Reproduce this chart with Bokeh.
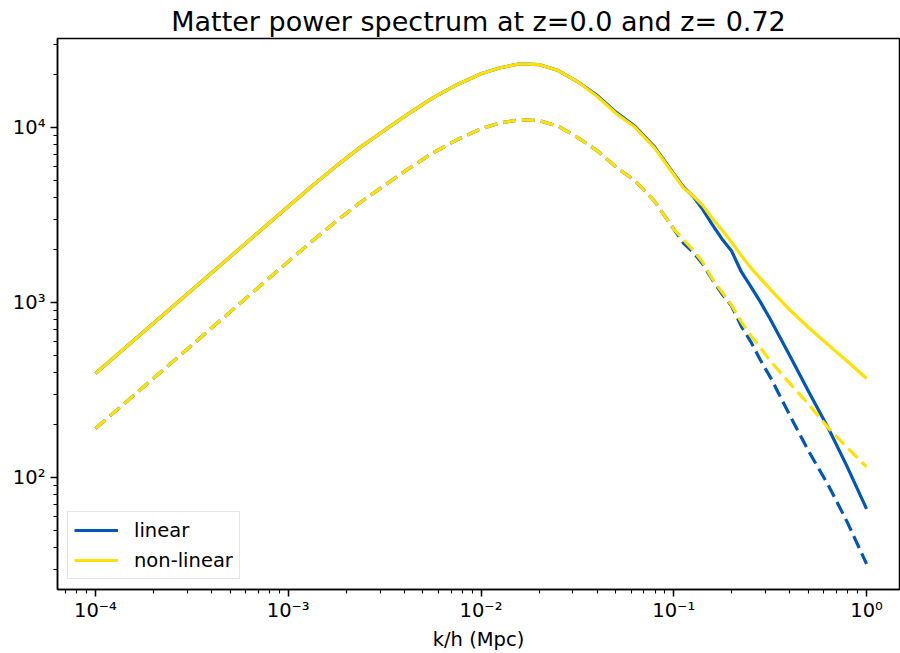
from bokeh.plotting import figure
from bokeh.models import Range1d, CustomJSTickFormatter, LogTicker, Legend, LegendItem
from bokeh.embed import file_html
from bokeh.resources import INLINE

# wavenumber k/h (Mpc)
k = [1.0e-4, 3.162e-4, 1.0e-3, 1.334e-3, 1.778e-3, 2.371e-3, 3.162e-3, 4.217e-3,
     5.623e-3, 7.499e-3, 0.01, 0.01259, 0.01585, 0.01995, 0.02512, 0.03162,
     0.03981, 0.05012, 0.06310, 0.07943, 0.1, 0.1122, 0.1259, 0.1413,
     0.1585, 0.1778, 0.1995, 0.2239, 0.2512, 0.2818, 0.3162, 0.3981,
     0.5012, 0.6310, 0.7943, 1.0]

# z = 0.0
p_lin_z0 = [393, 1180, 3540, 4645, 6040, 7730, 9660, 12020,
            14790, 17580, 20320, 21980, 23120, 22910, 21180, 18320,
            15350, 12250, 10140, 7760, 5445, 4580, 4045, 3410,
            2790, 2310, 1970, 1500, 1233, 1005, 805, 501,
            309, 193, 115, 66.2]
p_nonlin_z0 = [393, 1180, 3540, 4645, 6040, 7730, 9660, 12020,
               14790, 17580, 20320, 21980, 23120, 22910, 21180, 18320,
               15140, 12080, 10000, 7660, 5395, 4520, 4074, 3590,
               3020, 2600, 2213, 1854, 1578, 1371, 1194, 912,
               718, 575, 462, 368]

# z = 0.72
p_lin_z072 = [190.5, 571, 1714, 2249, 2924, 3741, 4677, 5821,
              7161, 8511, 9840, 10640, 11090, 10960, 10190, 8790,
              7413, 5957, 4955, 3802, 2630, 2188, 1941, 1660,
              1349, 1122, 955, 733, 596, 468, 376, 229,
              141, 91.2, 55.6, 32.1]
p_nonlin_z072 = [190.5, 571, 1714, 2249, 2924, 3741, 4677, 5821,
                 7161, 8511, 9840, 10640, 11090, 10960, 10190, 8790,
                 7413, 5957, 4955, 3802, 2630, 2291, 1995, 1698,
                 1365, 1148, 966, 776, 646, 550, 465, 347,
                 262, 193, 148, 115]

title_text = "Matter power spectrum at z=0.0 and z= 0.72"
x_label = "k/h (Mpc)"
legend_labels = ["linear", "non-linear"]

BLUE = "#0057b7"
YELLOW = "#ffe000"
FONT = "DejaVu Sans"

p = figure(width=900, height=653, x_axis_type="log", y_axis_type="log",
           x_range=Range1d(10 ** -4.197, 10 ** 0.171),
           y_range=Range1d(10 ** 1.36, 10 ** 4.509),
           output_backend="svg", toolbar_location=None,
           min_border_left=57, min_border_right=1,
           min_border_top=38, min_border_bottom=64)

p.title.text = title_text
p.title.align = "center"
p.title.text_font = FONT
p.title.text_font_size = "27px"
p.title.text_font_style = "normal"
p.title.text_color = "black"
p.title.standoff = 4

p.xgrid.visible = False
p.ygrid.visible = False
p.outline_line_color = "black"
p.outline_line_width = 1.5
p.background_fill_color = "white"
p.border_fill_color = "white"

fmt = CustomJSTickFormatter(code="""
const sup = {'-':'\u207b','0':'\u2070','1':'\u00b9','2':'\u00b2','3':'\u00b3','4':'\u2074','5':'\u2075','6':'\u2076','7':'\u2077','8':'\u2078','9':'\u2079'};
const e = Math.round(Math.log10(tick));
return '10' + String(e).split('').map(c => sup[c]).join('');
""")

for ax in (p.xaxis[0], p.yaxis[0]):
    ax.ticker = LogTicker(num_minor_ticks=10)
    ax.formatter = fmt
    ax.major_label_text_font = FONT
    ax.major_label_text_font_size = "19.5px"
    ax.major_label_text_color = "black"
    ax.axis_line_color = "black"
    ax.axis_line_width = 1.5
    ax.major_tick_line_color = "black"
    ax.major_tick_line_width = 1.5
    ax.minor_tick_line_color = "black"
    ax.minor_tick_line_width = 1.1
    ax.major_tick_out = 7
    ax.major_tick_in = 0
    ax.minor_tick_out = 4
    ax.minor_tick_in = 0

p.xaxis.major_label_standoff = 2
p.yaxis.major_label_standoff = 5

p.xaxis.axis_label = x_label
p.xaxis.axis_label_text_font = FONT
p.xaxis.axis_label_text_font_size = "19.5px"
p.xaxis.axis_label_text_font_style = "normal"
p.xaxis.axis_label_text_color = "black"
p.xaxis.axis_label_standoff = 3

LW = 3.2
r_lin0 = p.line(k, p_lin_z0, line_color=BLUE, line_width=LW)
r_nl0 = p.line(k, p_nonlin_z0, line_color=YELLOW, line_width=LW)
r_lin1 = p.line(k, p_lin_z072, line_color=BLUE, line_width=LW, line_dash="13 6")
r_nl1 = p.line(k, p_nonlin_z072, line_color=YELLOW, line_width=LW, line_dash="13 6")

legend = Legend(items=[LegendItem(label=legend_labels[0], renderers=[r_lin0]),
                       LegendItem(label=legend_labels[1], renderers=[r_nl0])],
                location="bottom_left", margin=10, padding=6, spacing=6,
                glyph_width=44, glyph_height=24, label_standoff=16,
                label_text_font=FONT, label_text_font_size="19.5px",
                label_text_color="black",
                border_line_color="#cccccc", border_line_width=1,
                background_fill_color="white", background_fill_alpha=0.8)
p.add_layout(legend)

open("out.html", "w").write(file_html(p, INLINE))
